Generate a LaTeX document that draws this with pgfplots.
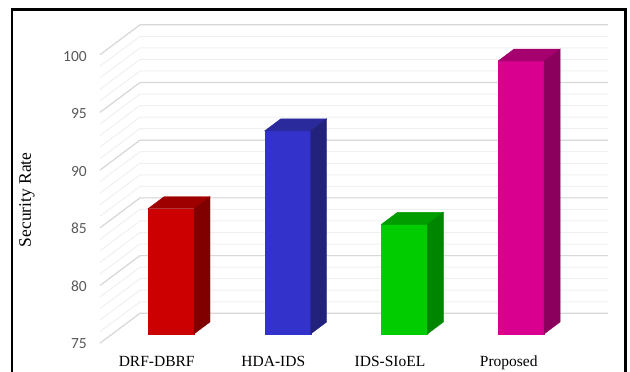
\documentclass[border=0pt]{standalone}
\usepackage{fontspec}
\setmainfont{Liberation Serif}
\newfontfamily\carlito{Carlito}
\usepackage{pgfplots}
\pgfplotsset{compat=1.18}
\definecolor{redF}{HTML}{CC0000}
\definecolor{redT}{HTML}{9E0000}
\definecolor{redS}{HTML}{800000}
\definecolor{bluF}{HTML}{3333CC}
\definecolor{bluT}{HTML}{2A2A9C}
\definecolor{bluS}{HTML}{22227C}
\definecolor{grnF}{HTML}{00CC00}
\definecolor{grnT}{HTML}{009C00}
\definecolor{grnS}{HTML}{008500}
\definecolor{magF}{HTML}{D90090}
\definecolor{magT}{HTML}{A6006E}
\definecolor{magS}{HTML}{8A005C}
\definecolor{tickgray}{HTML}{595959}
\definecolor{gmaj}{HTML}{D9D9D9}
\definecolor{gmin}{HTML}{F0F0F0}
\newcommand\defbarmark[4]{%
  \pgfdeclareplotmark{#1}{%
    \pgfmathsetlengthmacro\hh{(\barh)*11.54pt}%
    \fill[#2] (-23pt,0pt) rectangle (23pt,-\hh);
    \fill[#3] (-23pt,0pt) -- (23pt,0pt) -- (39pt,12pt) -- (-7pt,12pt) -- cycle;
    \fill[#4] (23pt,0pt) -- (39pt,12pt) -- (39pt,{12pt-\hh}) -- (23pt,-\hh) -- cycle;
  }}
\defbarmark{barred}{redF}{redT}{redS}
\defbarmark{barblue}{bluF}{bluT}{bluS}
\defbarmark{bargreen}{grnF}{grnT}{grnS}
\defbarmark{barmag}{magF}{magT}{magS}
\begin{document}
\begin{tikzpicture}
\begin{axis}[
  x=116.7pt, y=11.54pt,
  anchor=south west, at={(100pt,28pt)},
  xmin=-0.6084, xmax=3.7446, ymin=74.13, ymax=101.8,
  clip=false,
  axis lines=left, axis line style={draw=none},
  major tick length=0pt, minor tick num=0,
  ytick={74.19,79.16,84.13,89.09,94.06,99.03},
  yticklabels={75,80,85,90,95,100},
  yticklabel style={font=\carlito\fontsize{15.5}{16}\selectfont, text=tickgray, inner sep=0pt, xshift=-13pt},
  xtick={-0.1225,0.877,1.877,2.894},
  xticklabels={DRF-DBRF,HDA-IDS,IDS-SIoEL,Proposed},
  xticklabel style={font=\fontsize{15.5}{16}\selectfont, inner sep=0pt, anchor=north, yshift=-12pt},
  ylabel={Security Rate},
  ylabel style={font=\fontsize{17.5}{18}\selectfont, at={(axis description cs:-0.1437,0.4514)}, anchor=center},
  visualization depends on={y-75 \as \barh},
]
\pgfplotsinvokeforeach{75,...,100}{
  \draw[gmin, line width=1pt] (axis cs:-0.6084,{#1-0.8}) -- (axis cs:-0.2656,{#1+1.79}) -- (axis cs:3.7446,{#1+1.79});
}
\pgfplotsinvokeforeach{75,80,...,100}{
  \draw[gmaj, line width=1.2pt] (axis cs:-0.6084,{#1-0.8}) -- (axis cs:-0.2656,{#1+1.79}) -- (axis cs:3.7446,{#1+1.79});
}
\addplot[only marks, mark=barred] coordinates {(0,85.85)};
\addplot[only marks, mark=barblue] coordinates {(1,92.6)};
\addplot[only marks, mark=bargreen] coordinates {(2,84.5)};
\addplot[only marks, mark=barmag] coordinates {(3,98.65)};
\end{axis}
\draw[line width=2.5pt] (12.2pt,-20pt) rectangle (625.3pt,362.3pt);
\pgfresetboundingbox
\useasboundingbox (0,0) rectangle (630pt,372pt);
\end{tikzpicture}
\end{document}
